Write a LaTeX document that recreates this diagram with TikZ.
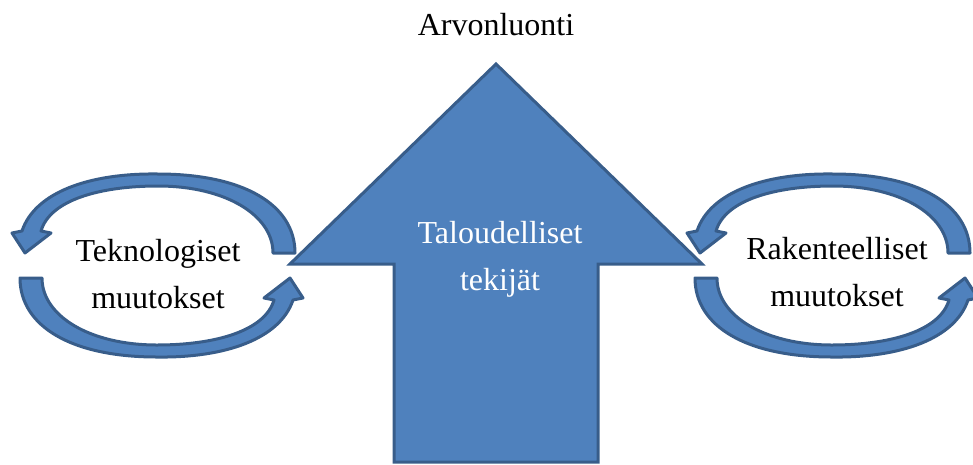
\documentclass[tikz,border=0pt]{standalone}
\usepackage{fontspec}
\setmainfont{Liberation Serif}
\definecolor{afill}{HTML}{4F81BD}
\definecolor{aline}{HTML}{385D8A}
\newcommand\myarcpath{%
  (295,253) .. controls (295,205) and (244,174) .. (158,174)
  .. controls (90,173) and (35,192) .. (22,231)
  -- (12,233) -- (25,253) -- (51,233) -- (41,231)
  .. controls (50,200) and (100,186) .. (158,186)
  .. controls (225,186) and (273,215) .. (273,253)
  -- cycle}
\begin{document}
\begin{tikzpicture}[x=1pt,y=-1pt,
  bigarrow/.style={fill=afill,draw=aline,line width=3pt,line join=miter},
  circarrow/.style={fill=afill,draw=aline,line width=3pt,line join=round},
  lbl/.style={font=\fontsize{32}{47}\selectfont,align=center,anchor=base,inner sep=0pt}]
\useasboundingbox (0,0) rectangle (973,464);
% left circular arrows
\path[circarrow] \myarcpath;
\begin{scope}[rotate around={180:(157.5,265.5)}]
  \path[circarrow] \myarcpath;
\end{scope}
% right circular arrows
\begin{scope}[shift={(675,0)}]
  \path[circarrow] \myarcpath;
  \begin{scope}[rotate around={180:(157.5,265.5)}]
    \path[circarrow] \myarcpath;
  \end{scope}
\end{scope}
% big arrow
\draw[bigarrow] (496,64) -- (290,264) -- (394,264) -- (394,462) -- (598,462) -- (598,264) -- (702,264) -- cycle;
% labels (base anchor = baseline of the last line)
\node[lbl] (top) at (496,35) {Arvonluonti};
\node[lbl,text=white] (econ) at (500,290) {Taloudelliset\\tekijät};
\node[lbl] (tech) at (158,308) {Teknologiset\\muutokset};
\node[lbl] (struct) at (837,306) {Rakenteelliset\\muutokset};
\end{tikzpicture}
\end{document}
